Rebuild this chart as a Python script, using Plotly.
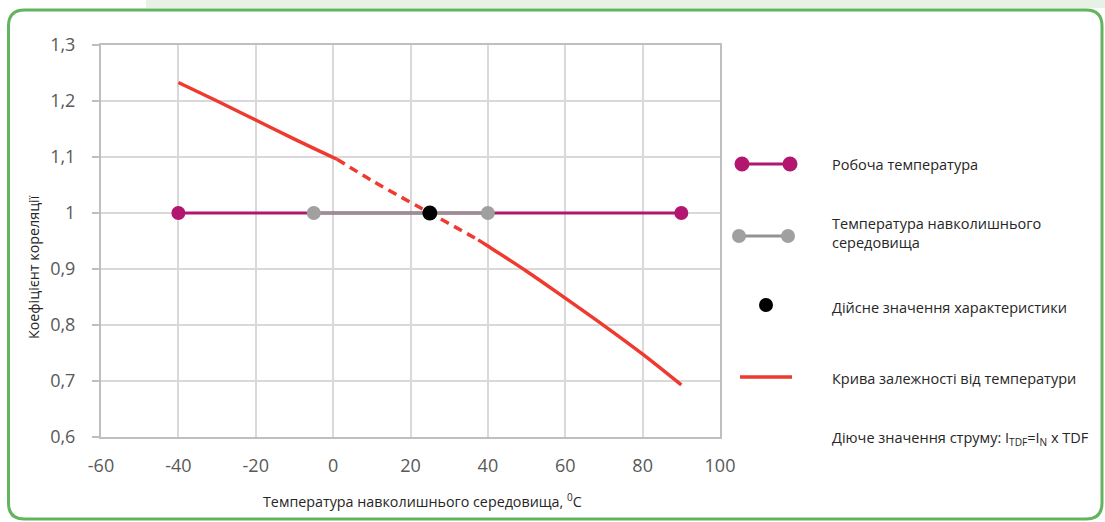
import plotly.graph_objects as go

# ---------------- data ----------------
x_ticks = [-60, -40, -20, 0, 20, 40, 60, 80, 100]
y_ticks = [0.6, 0.7, 0.8, 0.9, 1.0, 1.1, 1.2, 1.3]
y_tick_labels = ["0,6", "0,7", "0,8", "0,9", "1", "1,1", "1,2", "1,3"]

work_x = [-40, 90]
work_y = [1.0, 1.0]

ambient_x = [-5, 40]
ambient_y = [1.0, 1.0]

actual_x = [25]
actual_y = [1.0]

curve_left_x = [-40, -30, -20, -10, 1]
curve_left_y = [1.233, 1.200, 1.166, 1.132, 1.096]
curve_dash_x = [1, 10, 20, 25, 30, 37.5]
curve_dash_y = [1.096, 1.058, 1.019, 1.0, 0.981, 0.952]
curve_right_x = [37.5, 40, 50, 60, 70, 80, 90]
curve_right_y = [0.952, 0.941, 0.896, 0.848, 0.799, 0.748, 0.693]

legend_labels = [
    "Робоча температура",
    "Температура навколишнього<br>середовища",
    "Дійсне значення характеристики",
    "Крива залежності від температури",
    "Діюче значення струму: I<sub>TDF</sub>=I<sub>N</sub> x TDF",
]
x_title = "Температура навколишнього середовища, <sup>0</sup>C"
y_title = "Коефіцієнт кореляції"

# ---------------- style ----------------
FONT = "Open Sans"
MAGENTA = "#B2166F"
GRAY = "#A0A0A0"
GRAY_LINE = "#939393"
RED = "#EE3A2F"
GREEN = "#62B55E"

W, H = 1105, 522
PL, PR, PT, PB = 101, 720, 45, 437


def px(x):
    return (x - PL) / (PR - PL)


def py(y):
    return (PB - y) / (PB - PT)


fig = go.Figure()

fig.add_trace(go.Scatter(x=work_x, y=work_y, mode="lines+markers",
                         line=dict(color=MAGENTA, width=3),
                         marker=dict(color=MAGENTA, size=14), showlegend=False))
fig.add_trace(go.Scatter(x=ambient_x, y=ambient_y, mode="lines+markers",
                         line=dict(color=GRAY_LINE, width=3),
                         marker=dict(color=GRAY, size=14), showlegend=False))
fig.add_trace(go.Scatter(x=curve_left_x, y=curve_left_y, mode="lines",
                         line=dict(color=RED, width=3.5, shape="spline"), showlegend=False))
fig.add_trace(go.Scatter(x=curve_dash_x, y=curve_dash_y, mode="lines",
                         line=dict(color=RED, width=3.5, dash="9px,6px", shape="spline"),
                         showlegend=False))
fig.add_trace(go.Scatter(x=curve_right_x, y=curve_right_y, mode="lines",
                         line=dict(color=RED, width=3.5, shape="spline"), showlegend=False))
fig.add_trace(go.Scatter(x=actual_x, y=actual_y, mode="markers",
                         marker=dict(color="black", size=15), showlegend=False))

shapes = []
# top light green strip
shapes.append(dict(type="rect", xref="paper", yref="paper",
                   x0=px(146), x1=px(1105), y0=py(0), y1=py(8),
                   fillcolor="#E8F1E5", line=dict(width=0), layer="below"))

# rounded green frame
L, R, T, B, r = 8.5, 1102, 10, 519, 16
path = (f"M {px(L + r)},{py(T)} L {px(R - r)},{py(T)} "
        f"Q {px(R)},{py(T)} {px(R)},{py(T + r)} "
        f"L {px(R)},{py(B - r)} Q {px(R)},{py(B)} {px(R - r)},{py(B)} "
        f"L {px(L + r)},{py(B)} Q {px(L)},{py(B)} {px(L)},{py(B - r)} "
        f"L {px(L)},{py(T + r)} Q {px(L)},{py(T)} {px(L + r)},{py(T)} Z")
shapes.append(dict(type="path", xref="paper", yref="paper", path=path,
                   line=dict(color=GREEN, width=3), layer="below"))


def circle(cx, cy, d, color):
    return dict(type="circle", xref="paper", yref="paper",
                x0=px(cx - d / 2), x1=px(cx + d / 2),
                y0=py(cy + d / 2), y1=py(cy - d / 2),
                fillcolor=color, line=dict(width=0))


def hline(x0, x1, y, color, w):
    return dict(type="line", xref="paper", yref="paper",
                x0=px(x0), x1=px(x1), y0=py(y), y1=py(y),
                line=dict(color=color, width=w))


# legend symbols
shapes.append(hline(742, 790, 164, MAGENTA, 3))
shapes.append(circle(742, 164, 15, MAGENTA))
shapes.append(circle(790, 164, 15, MAGENTA))
shapes.append(hline(739, 788, 236, GRAY_LINE, 3))
shapes.append(circle(739, 236, 14, GRAY))
shapes.append(circle(788, 236, 14, GRAY))
shapes.append(circle(766, 305, 14, "black"))
shapes.append(hline(740, 792, 377, RED, 3.5))

annotations = []
legend_y = [164, 233, 307, 378, 438]
for lab, ly in zip(legend_labels, legend_y):
    annotations.append(dict(text=lab, xref="paper", yref="paper",
                            x=px(830), y=py(ly), xanchor="left", yanchor="middle",
                            align="left", showarrow=False,
                            font=dict(family=FONT, size=14.5, color="#262626")))

annotations.append(dict(text=x_title, xref="paper", yref="paper",
                        x=px(422), y=py(500), xanchor="center", yanchor="middle",
                        showarrow=False, font=dict(family=FONT, size=14.3, color="#262626")))
annotations.append(dict(text=y_title, xref="paper", yref="paper",
                        x=px(33), y=py(267), xanchor="center", yanchor="middle",
                        textangle=-90, showarrow=False,
                        font=dict(family=FONT, size=14.3, color="#262626")))

fig.update_layout(
    width=W, height=H,
    margin=dict(l=PL, r=W - PR, t=PT, b=H - PB, pad=0),
    paper_bgcolor="white", plot_bgcolor="white",
    shapes=shapes, annotations=annotations,
    showlegend=False,
    font=dict(family=FONT),
)
fig.update_xaxes(range=[-60, 100], tickvals=x_ticks, ticktext=[str(v) for v in x_ticks],
                 showgrid=True, gridcolor="#D9D9D9", gridwidth=2,
                 showline=True, linecolor="#BFBFBF", linewidth=2, mirror=True,
                 ticks="", zeroline=False, ticklabelstandoff=11,
                 tickfont=dict(family=FONT, size=18, color="#595959"))
fig.update_yaxes(range=[0.6, 1.3], tickvals=y_ticks, ticktext=y_tick_labels,
                 showgrid=True, gridcolor="#D9D9D9", gridwidth=2,
                 showline=True, linecolor="#BFBFBF", linewidth=2, mirror=True,
                 ticks="outside", ticklen=7, tickcolor="#BFBFBF", tickwidth=2,
                 zeroline=False, ticklabelstandoff=13,
                 tickfont=dict(family=FONT, size=18, color="#595959"))

fig.write_html("out.html", config={"displayModeBar": False},
               post_script="document.body.style.margin='0';document.body.style.padding='0';")
